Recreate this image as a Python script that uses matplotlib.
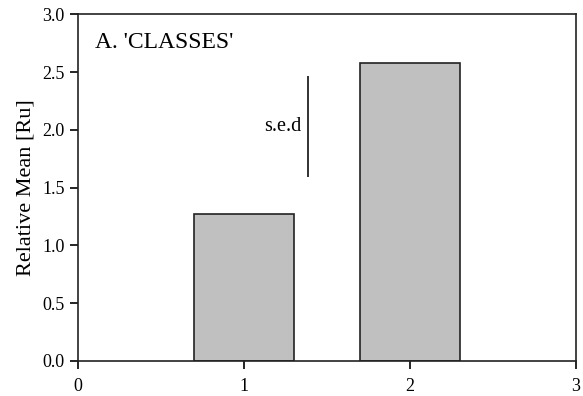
import matplotlib
matplotlib.use("Agg")
import matplotlib.pyplot as plt

# group means and the standard error of the difference bar
groups = [1, 2]
means = [1.27, 2.575]
sed_x = 1.385
sed_range = [1.59, 2.465]

plt.rcParams['font.family'] = ['Liberation Serif', 'DejaVu Serif']

fig = plt.figure(figsize=(5.83, 3.96), dpi=100)
ax = fig.add_axes([0.1338, 0.0884, 0.8542, 0.8755])

ax.bar(groups, means, width=0.6, color="#c0c0c0", edgecolor="#222222", linewidth=1.2)
ax.vlines(sed_x, sed_range[0], sed_range[1], color="#222222", linewidth=1.3)
ax.text(sed_x - 0.04, sum(sed_range) / 2, "s.e.d", ha="right", va="center", fontsize=14.5)
ax.text(0.1, 2.76, "A. 'CLASSES'", ha="left", va="center", fontsize=17)

ax.set_xlim(0, 3)
ax.set_ylim(0, 3.0)
ax.set_xticks([0, 1, 2, 3])
ax.set_yticks([0.0, 0.5, 1.0, 1.5, 2.0, 2.5, 3.0])
ax.set_yticklabels([f"{v:.1f}" for v in ax.get_yticks()])
ax.set_ylabel("Relative Mean [Ru]", fontsize=16, labelpad=5)
ax.tick_params(direction="out", length=6, width=1.2, labelsize=13, top=False, right=False)
ax.tick_params(axis="x", pad=6)
for s in ax.spines.values():
    s.set_linewidth(1.2)
    s.set_color("#222222")

fig.savefig("out.png", dpi=100)
